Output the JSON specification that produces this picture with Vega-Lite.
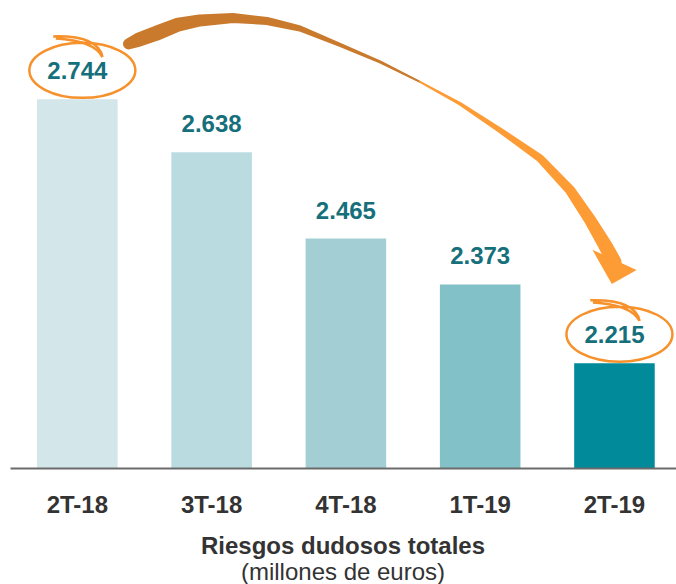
{
  "$schema": "https://vega.github.io/schema/vega-lite/v6.json",
  "width": 666,
  "height": 458,
  "autosize": {"type": "none"},
  "padding": {"left": 10, "top": 10, "right": 0, "bottom": 116},
  "background": "white",
  "config": {
    "view": {"stroke": null},
    "font": "Liberation Sans",
    "locale": {"number": {"decimal": ",", "thousands": ".", "grouping": [3], "currency": ["", " €"]}}
  },
  "title": {
    "text": "Riesgos dudosos totales",
    "subtitle": "(millones de euros)",
    "orient": "bottom",
    "anchor": "middle",
    "font": "Liberation Sans",
    "fontSize": 24,
    "fontWeight": "bold",
    "color": "#333333",
    "subtitleFont": "Liberation Sans",
    "subtitleFontSize": 24,
    "subtitleColor": "#333333",
    "offset": 18,
    "subtitlePadding": 2
  },
  "resolve": {"scale": {"x": "independent", "color": "independent", "size": "independent"}, "axis": {"x": "independent"}},
  "layer": [
    {
      "data": {"values": [
        {"q": "2T-18", "value": 2744},
        {"q": "3T-18", "value": 2638},
        {"q": "4T-18", "value": 2465},
        {"q": "1T-19", "value": 2373},
        {"q": "2T-19", "value": 2215}
      ]},
      "encoding": {
        "x": {"field": "q", "type": "nominal", "sort": null,
          "scale": {"paddingInner": 0.4, "paddingOuter": 0.18, "align": 0.56},
          "axis": {"title": null, "domainColor": "#6b6b6b", "domainWidth": 2, "ticks": false,
            "labelFont": "Liberation Sans", "labelFontSize": 24, "labelFontWeight": "bold",
            "labelColor": "#333333", "labelPadding": 25, "labelAngle": 0, "zindex": 1}},
        "y": {"field": "value", "type": "quantitative",
          "scale": {"domain": [2005, 2923], "zero": false, "nice": false},
          "axis": null}
      },
      "layer": [
        {
          "mark": {"type": "bar"},
          "encoding": {
            "y2": {"datum": 2005},
            "color": {"field": "q", "type": "nominal", "sort": null, "legend": null,
              "scale": {"range": ["#d3e6ea", "#badce0", "#a3ced4", "#83c1c9", "#018b9a"]}}
          }
        },
        {
          "mark": {"type": "text", "font": "Liberation Sans", "fontSize": 24, "fontWeight": "bold",
            "color": "#16707c", "baseline": "middle", "dy": -27},
          "encoding": {"text": {"field": "value", "type": "quantitative", "format": ","}}
        },
        {
          "transform": [{"filter": "datum.q == '2T-18' || datum.q == '2T-19'"}],
          "mark": {"type": "point", "filled": false, "stroke": "#f6912b", "strokeWidth": 2.5,
            "opacity": 1, "yOffset": -29, "xOffset": 5, "size": 11236,
            "shape": "M1,0C1,0.287,0.5523,0.52,0,0.52C-0.5523,0.52,-1,0.287,-1,0C-1,-0.287,-0.5523,-0.52,0,-0.52C0.5523,-0.52,1,-0.287,1,0ZM-0.55,-0.64Q0.3,-0.66,0.38,-0.25M-0.5,-0.6Q0.22,-0.56,0.38,-0.25"}
        }
      ]
    },
    {
      "data": {"values": [
        {"seg": "a", "pos": 0.38, "value": 2855, "thick": 11},
        {"seg": "a", "pos": 0.451, "value": 2863, "thick": 14},
        {"seg": "a", "pos": 0.592, "value": 2877, "thick": 15},
        {"seg": "a", "pos": 0.741, "value": 2893, "thick": 14},
        {"seg": "a", "pos": 0.912, "value": 2902, "thick": 12},
        {"seg": "a", "pos": 1.158, "value": 2907, "thick": 10},
        {"seg": "a", "pos": 1.412, "value": 2901, "thick": 8},
        {"seg": "a", "pos": 1.657, "value": 2886, "thick": 6},
        {"seg": "a", "pos": 1.955, "value": 2853, "thick": 4},
        {"seg": "a", "pos": 2.253, "value": 2819, "thick": 3},
        {"seg": "a", "pos": 2.551, "value": 2779, "thick": 2},
        {"seg": "b", "pos": 2.551, "value": 2779, "thick": 2},
        {"seg": "b", "pos": 2.849, "value": 2735, "thick": 3.5},
        {"seg": "b", "pos": 3.147, "value": 2682, "thick": 5.5},
        {"seg": "b", "pos": 3.445, "value": 2626, "thick": 8},
        {"seg": "b", "pos": 3.669, "value": 2562, "thick": 10},
        {"seg": "b", "pos": 3.818, "value": 2502, "thick": 12},
        {"seg": "b", "pos": 3.929, "value": 2452, "thick": 14},
        {"seg": "b", "pos": 3.996, "value": 2418, "thick": 15},
        {"seg": "head", "pos": 3.996, "value": 2418, "thick": 0}
      ]},
      "encoding": {
        "x": {"field": "pos", "type": "quantitative",
          "scale": {"domain": [-0.503, 4.458], "nice": false, "zero": false}, "axis": null},
        "y": {"field": "value", "type": "quantitative"}
      },
      "layer": [
        {
          "transform": [{"filter": "datum.seg == 'a'"}],
          "mark": {"type": "trail", "color": "#c97a2c"},
          "encoding": {"size": {"field": "thick", "type": "quantitative", "legend": null,
            "scale": {"type": "linear", "domain": [0, 15], "range": [0, 15], "zero": true}}}
        },
        {
          "transform": [{"filter": "datum.seg == 'b'"}],
          "mark": {"type": "trail", "color": "#fd9b35"},
          "encoding": {"size": {"field": "thick", "type": "quantitative", "legend": null,
            "scale": {"type": "linear", "domain": [0, 15], "range": [0, 15], "zero": true}}}
        },
        {
          "transform": [{"filter": "datum.seg == 'head'"}],
          "mark": {"type": "point", "filled": true, "color": "#fd9b35", "opacity": 1, "size": 2900,
            "shape": "M-0.8,-0.45L-0.08,0.82L0.84,0.3Z"}
        }
      ]
    }
  ]
}
